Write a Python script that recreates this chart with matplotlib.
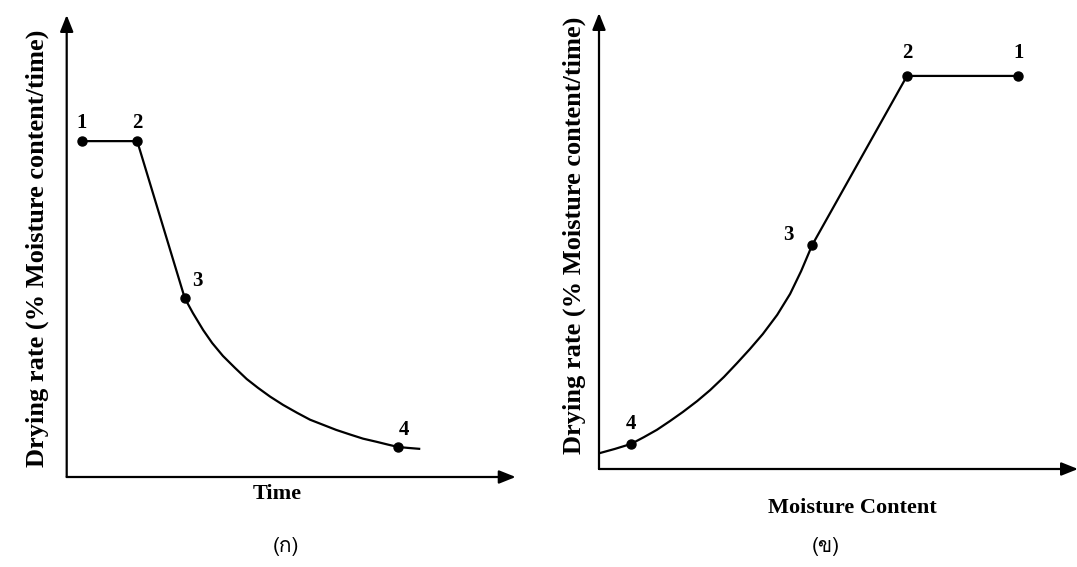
import matplotlib
matplotlib.use('Agg')
import matplotlib.pyplot as plt
from matplotlib import font_manager
from matplotlib.ft2font import FT2Font

# Drying curves (axis units 0-100, origin at the axes corner)
# (a) drying rate vs time
time_pts = [3.4, 15.7, 26.3, 28.1, 30.4, 32.4, 34.8, 37.5, 40.1, 42.6, 45.3, 48.2,
            51.3, 54.2, 57.1, 60.0, 63.1, 66.0, 69.1, 71.6, 73.8, 76.0, 78.5]
rate_time = [72.7, 72.7, 38.7, 35.5, 31.8, 29.0, 26.2, 23.6, 21.2, 19.3, 17.4, 15.6,
             13.9, 12.4, 11.3, 10.2, 9.2, 8.3, 7.6, 7.0, 6.5, 6.3, 6.1]
marked_time = [0, 1, 2, 20]          # indices of points 1, 2, 3, 4

# (b) drying rate vs moisture content
moist_pts = [0.2, 3.3, 6.7, 9.4, 12.1, 14.8, 17.5, 20.5, 23.2, 26.1, 28.8, 31.5,
             34.2, 37.2, 39.9, 42.2, 44.5, 64.3, 87.5]
rate_moist = [3.5, 4.4, 5.5, 7.0, 8.6, 10.5, 12.5, 14.9, 17.3, 20.2, 23.2, 26.3,
              29.6, 33.8, 38.4, 43.4, 49.1, 86.2, 86.2]
marked_moist = [18, 17, 16, 2]       # indices of points 1, 2, 3, 4

point_names = ['1', '2', '3', '4']
ylabel = 'Drying rate (% Moisture content/time)'
xlabels = ['Time', 'Moisture Content']
panel_tags = ['(ก)', '(ข)']


def find_thai_font():
    # look for any installed face that carries Thai glyphs
    for f in font_manager.fontManager.ttflist:
        try:
            if 0x0E01 in FT2Font(f.fname).get_charmap():
                return f.name
        except Exception:
            pass
    return 'DejaVu Sans'


SERIF = ['Liberation Serif', 'DejaVu Serif']
thai = find_thai_font()

fig = plt.figure(figsize=(10.77, 5.67), dpi=100)


def arrow_axes(ax):
    for s in ax.spines.values():
        s.set_visible(False)
    ax.set_xticks([])
    ax.set_yticks([])
    ax.set_xlim(0, 100)
    ax.set_ylim(0, 100)
    style = dict(arrowstyle='-|>,head_length=1.0,head_width=0.4', color='black',
                 lw=1.6, shrinkA=0, shrinkB=0)
    ax.annotate('', xy=(1, 0), xytext=(0, 0), xycoords='axes fraction',
                arrowprops=style, annotation_clip=False)
    ax.annotate('', xy=(0, 1), xytext=(0, 0), xycoords='axes fraction',
                arrowprops=style, annotation_clip=False)


def draw_curve(ax, xs, ys, marks, offsets):
    ax.plot(xs, ys, color='black', lw=1.6, solid_joinstyle='round', clip_on=False)
    for name, i, off in zip(point_names, marks, offsets):
        ax.plot(xs[i], ys[i], 'o', color='black', ms=6.5, clip_on=False)
        ax.annotate(name, (xs[i], ys[i]), xytext=off, textcoords='offset points',
                    ha='center', va='bottom', fontsize=15, fontweight='bold',
                    family=SERIF, annotation_clip=False)


# panel (a)
ax1 = fig.add_axes([66.7 / 1077, 90 / 567, 449 / 1077, 462 / 567])
arrow_axes(ax1)
draw_curve(ax1, time_pts, rate_time, marked_time,
           [(0, 6), (0, 6), (9, 5), (4, 5)])

# panel (b)
ax2 = fig.add_axes([599 / 1077, 98 / 567, 479 / 1077, 456 / 567])
arrow_axes(ax2)
draw_curve(ax2, moist_pts, rate_moist, marked_moist,
           [(0, 9), (0, 9), (-17, 0), (0, 7)])

# axis titles
fig.text(37 / 1077, 1 - 248 / 567, ylabel, rotation=90, ha='center', va='center',
         fontsize=19, fontweight='bold', family=SERIF)
fig.text(574 / 1077, 1 - 235 / 567, ylabel, rotation=90, ha='center', va='center',
         fontsize=19, fontweight='bold', family=SERIF)
fig.text(277 / 1077, 1 - 494 / 567, xlabels[0], ha='center', va='center',
         fontsize=16, fontweight='bold', family=SERIF)
fig.text(852 / 1077, 1 - 508 / 567, xlabels[1], ha='center', va='center',
         fontsize=16, fontweight='bold', family=SERIF)

# panel tags
fig.text(286 / 1077, 1 - 546 / 567, panel_tags[0], ha='center', va='center',
         fontsize=15, family=[thai, 'DejaVu Sans'])
fig.text(826 / 1077, 1 - 546 / 567, panel_tags[1], ha='center', va='center',
         fontsize=15, family=[thai, 'DejaVu Sans'])

fig.savefig('out.png', dpi=100, facecolor='white')
